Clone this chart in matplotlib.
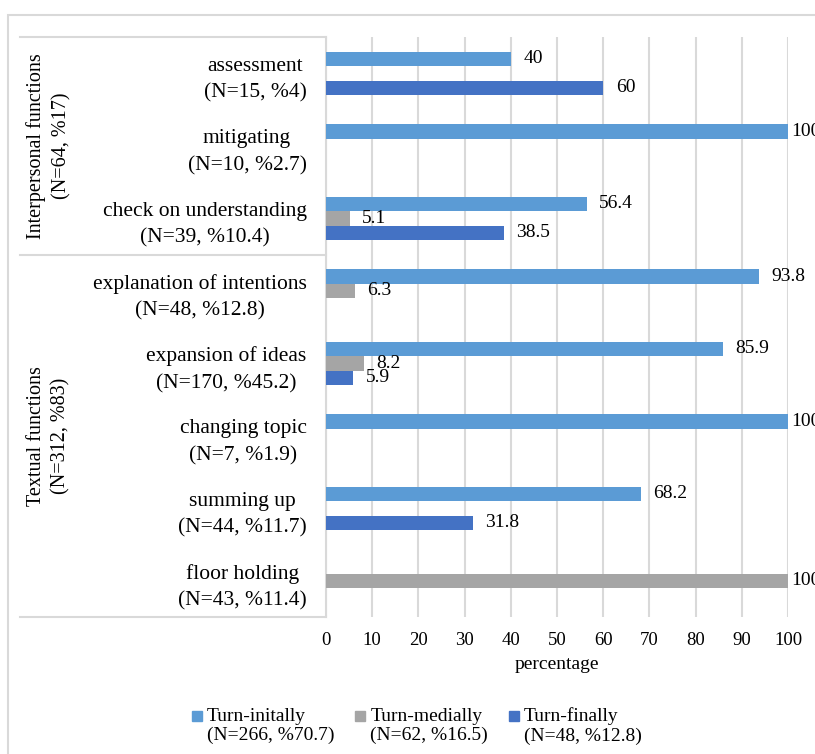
import numpy as np
import matplotlib.pyplot as plt
import matplotlib.transforms as mtransforms
from matplotlib.lines import Line2D
from matplotlib.patches import Rectangle
from matplotlib.legend_handler import HandlerLine2D

plt.rcParams['font.family'] = ['Liberation Serif', 'DejaVu Serif']

# data
categories = ["assessment\n(N=15, %4)",
              "mitigating\n(N=10, %2.7)",
              "check on understanding\n(N=39, %10.4)",
              "explanation of intentions\n(N=48, %12.8)",
              "expansion of ideas\n(N=170, %45.2)",
              "changing topic\n(N=7, %1.9)",
              "summing up\n(N=44, %11.7)",
              "floor holding\n(N=43, %11.4)"]
turn_initially = [40, 100, 56.4, 93.8, 85.9, 100, 68.2, 0]
turn_medially = [0, 0, 5.1, 6.3, 8.2, 0, 0, 100]
turn_finally = [60, 0, 38.5, 0, 5.9, 0, 31.8, 0]
series_labels = ["Turn-initally\n(N=266, %70.7)",
                 "Turn-medially\n(N=62, %16.5)",
                 "Turn-finally\n(N=48, %12.8)"]
groups = ["Interpersonal functions\n(N=64, %17)",
          "Textual functions\n(N=312, %83)"]
group_sizes = [3, 5]
xticks = np.arange(0, 101, 10)

colors = ["#5B9BD5", "#A5A5A5", "#4472C4"]
grid_c = "#D9D9D9"

fig = plt.figure(figsize=(8.15, 7.54), dpi=100)
ax = fig.add_axes([326/815, 1-617/754, (788-326)/815, (617-37)/754])

y = np.arange(len(categories))
h = 0.2
series = [turn_initially, turn_medially, turn_finally]
for i, (vals, c) in enumerate(zip(series, colors)):
    pos = y + (i - 1) * h
    ax.barh(pos, vals, height=h, color=c, zorder=3)
    for p, v in zip(pos, vals):
        if v > 0:
            # excel pulls the label at the axis end in close to the bar
            off = 2 if v >= 100 else 9
            ax.annotate(f"{v:g}", (v, p), xytext=(off, 0), textcoords="offset points",
                        ha="left", va="center", fontsize=14, color="black",
                        annotation_clip=False)

ax.set_xlim(0, 100)
ax.set_ylim(len(categories) - 0.5, -0.5)
ax.set_xticks(xticks)
ax.set_yticks(y)
ax.set_yticklabels(categories, fontsize=15.5)
for lbl in ax.get_yticklabels():
    lbl.set_multialignment("center")
    lbl.set_linespacing(1.55)
ax.tick_params(axis="y", length=0, pad=14)
ax.tick_params(axis="x", length=0, pad=11, labelsize=13.5)
ax.grid(axis="x", color=grid_c, lw=1.5, zorder=0)
for s in ["top", "right", "bottom"]:
    ax.spines[s].set_visible(False)
ax.spines["left"].set_color(grid_c)
ax.spines["left"].set_linewidth(1.5)
ax.set_xlabel("percentage", fontsize=14, labelpad=5)

# group box on the left
tr = mtransforms.blended_transform_factory(fig.transFigure, ax.transData)
x0 = 20/815
x1 = 326/815
bounds = [-0.5]
for n in group_sizes:
    bounds.append(bounds[-1] + n)
for b in bounds:
    fig.add_artist(Line2D([x0, x1], [b, b], transform=tr, color=grid_c, lw=1.5))
for g, a, b in zip(groups, bounds[:-1], bounds[1:]):
    fig.text(49/815, (a + b) / 2, g, transform=tr, rotation=90, ha="center",
             va="center", fontsize=14.5, multialignment="center", linespacing=1.4)

# outer chart border
fig.add_artist(Rectangle((8/815, -0.5), 2, 1.5 - 15/754, transform=fig.transFigure,
                         fill=False, edgecolor=grid_c, lw=1.5))


def raise_marker(legend_handle, orig_handle):
    legend_handle.update_from(orig_handle)
    legend_handle.set_ydata(np.asarray(legend_handle.get_ydata()) + 7)


handles = [Line2D([], [], marker="s", ls="", color=c, markersize=7) for c in colors]
fig.legend(handles, series_labels, loc="center", bbox_to_anchor=(416/815, 1-726/754),
           ncol=3, frameon=False, fontsize=14, handletextpad=0.15,
           columnspacing=1.0, handlelength=0.7,
           handler_map={Line2D: HandlerLine2D(update_func=raise_marker)})

fig.savefig("out.png", dpi=100)
